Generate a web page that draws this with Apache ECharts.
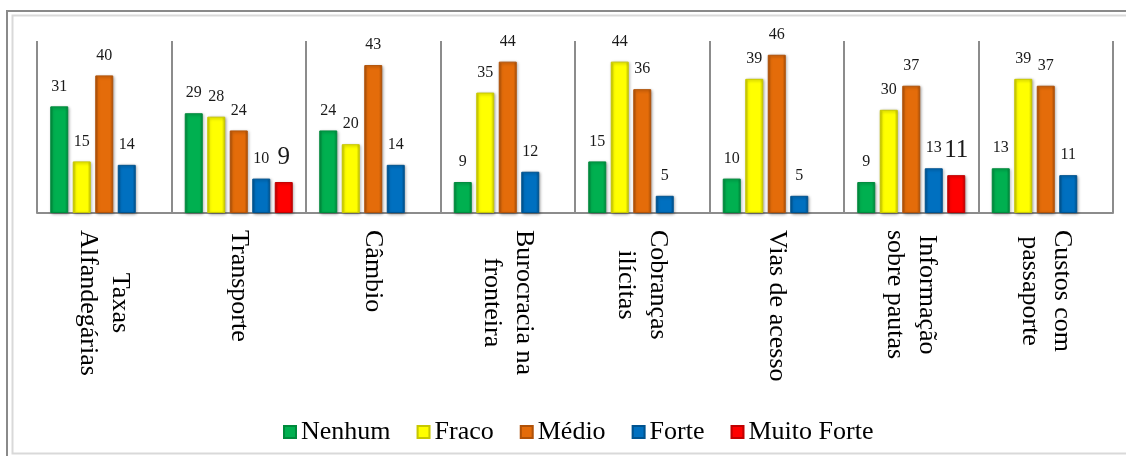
<!DOCTYPE html>
<html>
<head>
<meta charset="utf-8">
<script src="https://cdn.jsdelivr.net/npm/echarts@6/dist/echarts.min.js"></script>
<style>
html, body { margin: 0; padding: 0; background: #fff; }
#chart { width: 1126px; height: 456px; }
</style>
</head>
<body>
<div id="chart"></div>
<script>
// categorias (eixo x)
var categorias = ['Taxas\nAlfandegárias', 'Transporte', 'Câmbio', 'Burocracia na\nfronteira',
	'Cobranças\nilícitas', 'Vias de acesso', 'Informação\nsobre pautas', 'Custos com\npassaporte'];
// valores de cada nível
var nenhum = [31, 29, 24, 9, 15, 10, 9, 13];
var fraco = [15, 28, 20, 35, 44, 39, 30, 39];
var medio = [40, 24, 43, 44, 36, 46, 37, 37];
var forte = [14, 10, 14, 12, 5, 5, 13, 11];
var muitoForte = [null, 9, null, null, null, null, 11, null];
var yMax = 50;

var serif = '"Liberation Serif", "Times New Roman", serif';

/**
 * cor em degradê horizontal para dar o efeito de relevo da barra
 */
function bevel(base, dark){
	return new echarts.graphic.LinearGradient(0, 0, 1, 0, [
		{offset: 0, color: dark},
		{offset: 0.18, color: base},
		{offset: 0.82, color: base},
		{offset: 1, color: dark}
	]);
}

function makeSeries(name, data, base, dark, labelSize){
	return {
		name: name,
		type: 'bar',
		data: data,
		barWidth: 18,
		barGap: '25%',
		itemStyle: {
			color: bevel(base, dark),
			borderColor: dark,
			borderWidth: 1,
			shadowColor: 'rgba(0,0,0,0.35)',
			shadowBlur: 3,
			shadowOffsetX: 1,
			shadowOffsetY: 1
		},
		label: {
			show: true,
			position: 'top',
			distance: 12,
			fontFamily: serif,
			fontSize: labelSize,
			color: '#1a1a1a'
		}
	};
}

var myChart = echarts.init(document.getElementById('chart'));
var option = {
	animation: false,
	backgroundColor: '#fff',
	graphic: [{
		type: 'rect',
		shape: {x: 7, y: 11, width: 1140, height: 460},
		style: {fill: null, stroke: '#8a8a8a', lineWidth: 2},
		silent: true
	}, {
		type: 'rect',
		shape: {x: 12.5, y: 15.5, width: 1130, height: 438},
		style: {fill: null, stroke: '#d9d9d9', lineWidth: 2},
		silent: true
	}],
	grid: {
		left: 37,
		right: 13,
		top: 41,
		bottom: 243
	},
	legend: {
		left: 278,
		top: 414,
		itemWidth: 12,
		itemHeight: 12,
		itemGap: 26,
		icon: 'rect',
		textStyle: {
			fontFamily: serif,
			fontSize: 26,
			color: '#000'
		},
		data: ['Nenhum', 'Fraco', 'Médio', 'Forte', 'Muito Forte']
	},
	xAxis: {
		type: 'category',
		data: categorias,
		axisLine: {
			lineStyle: {color: '#8c8c8c', width: 2}
		},
		axisTick: {show: false},
		splitLine: {
			show: true,
			lineStyle: {color: '#8c8c8c', width: 2}
		},
		axisLabel: {
			interval: 0,
			rotate: -90,
			margin: 17,
			formatter: function(value){
				return value.split('\n').map(function(l){ return '{c|' + l + '}'; }).join('\n');
			},
			rich: {
				c: {
					align: 'center',
					fontFamily: serif,
					fontSize: 26,
					lineHeight: 32,
					color: '#000'
				}
			}
		}
	},
	yAxis: {
		type: 'value',
		min: 0,
		max: yMax,
		show: false,
		splitLine: {show: false}
	},
	series: [
		makeSeries('Nenhum', nenhum, '#00b050', '#008a3c', 16),
		makeSeries('Fraco', fraco, '#ffff00', '#c8c800', 16),
		makeSeries('Médio', medio, '#e46c0a', '#b05208', 16),
		makeSeries('Forte', forte, '#0070c0', '#00538f', 16),
		makeSeries('Muito Forte', muitoForte, '#ff0000', '#c00000', 25)
	]
};
myChart.setOption(option);
window.onresize = myChart.resize;
</script>
</body>
</html>
